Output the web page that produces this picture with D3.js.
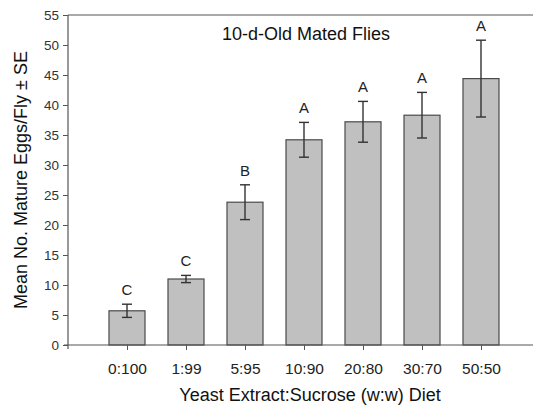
<!DOCTYPE html>
<html>
<head>
<meta charset="utf-8">
<script src="https://cdn.jsdelivr.net/npm/d3@7"></script>
<style>
body{margin:0;background:#fff;}
text{font-family:"Liberation Sans",Arial,sans-serif;}
</style>
</head>
<body>
<svg id="chart" width="533" height="406"></svg>
<script>
var diets=["0:100","1:99","5:95","10:90","20:80","30:70","50:50"];
var means=[5.7,11.0,23.8,34.2,37.2,38.3,44.4];
var errs=[1.1,0.6,2.9,2.9,3.4,3.8,6.4];
var letters=["C","C","B","A","A","A","A"];
var yTicks=[0,5,10,15,20,25,30,35,40,45,50,55];

var svg=d3.select("#chart");
var pLeft=68,pRight=540,pTop=15,pBottom=345;

var x=d3.scaleLinear().domain([0,diets.length+1]).range([pLeft,pRight]);
var y=d3.scaleLinear().domain([0,55]).range([pBottom,pTop]);
var barW=36;

// frame line at top
svg.append("line").attr("x1",pLeft).attr("x2",533).attr("y1",pTop).attr("y2",pTop)
    .attr("stroke","#555").attr("stroke-width",1.2);

// bars
var g=svg.append("g");
g.selectAll("rect").data(means).enter().append("rect")
    .attr("x",function(d,i){return x(i+1)-barW/2;})
    .attr("y",function(d){return y(d);})
    .attr("width",barW)
    .attr("height",function(d){return y(0)-y(d);})
    .attr("fill","#c0c0c0")
    .attr("stroke","#4a4a4a")
    .attr("stroke-width",1.2);

// error bars
var eb=g.selectAll("g.err").data(means).enter().append("g").attr("class","err")
    .attr("stroke","#333").attr("stroke-width",1.4);
eb.append("line")
    .attr("x1",function(d,i){return x(i+1);}).attr("x2",function(d,i){return x(i+1);})
    .attr("y1",function(d,i){return y(d+errs[i]);}).attr("y2",function(d,i){return y(d-errs[i]);});
eb.append("line")
    .attr("x1",function(d,i){return x(i+1)-5;}).attr("x2",function(d,i){return x(i+1)+5;})
    .attr("y1",function(d,i){return y(d+errs[i]);}).attr("y2",function(d,i){return y(d+errs[i]);});
eb.append("line")
    .attr("x1",function(d,i){return x(i+1)-5;}).attr("x2",function(d,i){return x(i+1)+5;})
    .attr("y1",function(d,i){return y(d-errs[i]);}).attr("y2",function(d,i){return y(d-errs[i]);});

// significance letters
g.selectAll("text.sig").data(letters).enter().append("text").attr("class","sig")
    .attr("x",function(d,i){return x(i+1);})
    .attr("y",function(d,i){return y(means[i]+errs[i])-9;})
    .attr("text-anchor","middle")
    .attr("font-size",15)
    .attr("fill","#222")
    .text(function(d){return d;});

// y axis
var yAxis=d3.axisLeft(y).tickValues(yTicks).tickSize(5).tickPadding(4);
var ya=svg.append("g").attr("transform","translate("+pLeft+",0)").call(yAxis);
ya.select(".domain").attr("stroke","#555").attr("stroke-width",1.2).attr("d","M0,"+pTop+"V"+(pBottom+4));
ya.selectAll(".tick line").attr("stroke","#555");
ya.selectAll(".tick text").attr("font-size",13.5).attr("fill","#333").attr("font-family","Liberation Sans, Arial, sans-serif");

// x axis
var xAxis=d3.axisBottom(x).tickValues(d3.range(1,diets.length+1))
    .tickFormat(function(d){return diets[d-1];}).tickSize(5).tickPadding(13);
var xa=svg.append("g").attr("transform","translate(0,"+pBottom+")").call(xAxis);
xa.select(".domain").attr("stroke","#555").attr("stroke-width",1.2).attr("d","M"+(pLeft-4)+",0H533");
xa.selectAll(".tick line").attr("stroke","#555");
xa.selectAll(".tick text").attr("font-size",15.5).attr("fill","#222").attr("font-family","Liberation Sans, Arial, sans-serif");

// title inside
svg.append("text").attr("x",306).attr("y",40).attr("text-anchor","middle")
    .attr("font-size",18).attr("fill","#111").text("10-d-Old Mated Flies");

// axis titles
svg.append("text").attr("x",310).attr("y",401).attr("text-anchor","middle")
    .attr("font-size",18).attr("fill","#111").text("Yeast Extract:Sucrose (w:w) Diet");
svg.append("text").attr("transform","translate(27,180) rotate(-90)").attr("text-anchor","middle")
    .attr("font-size",18).attr("fill","#111").text("Mean No. Mature Eggs/Fly ± SE");
</script>
</body>
</html>
